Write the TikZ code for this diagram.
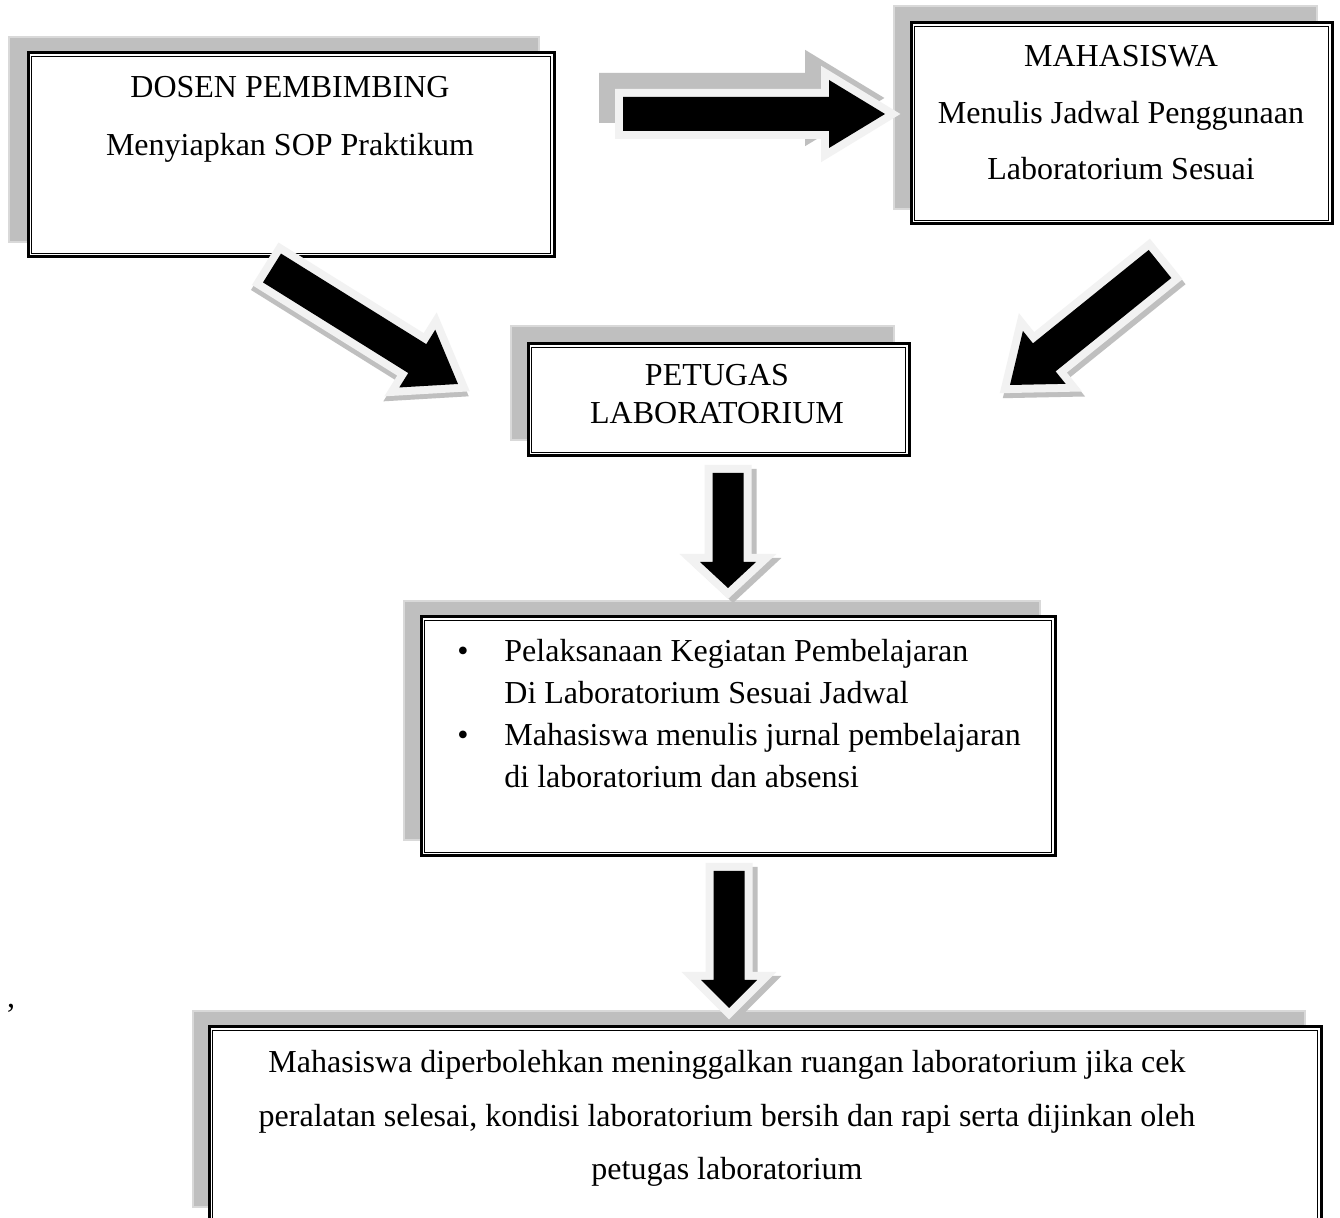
\documentclass[tikz,border=0pt]{standalone}
\usepackage{fontspec}
\setmainfont{Liberation Serif}
\usetikzlibrary{calc,fit}
\definecolor{shgray}{HTML}{BFBFBF}
\definecolor{shline}{HTML}{D9D9D9}
\definecolor{halo}{HTML}{F2F2F2}
\newcommand\flowbox[9]{%
  \draw[shadowbox] (#6,#7) rectangle (#8,#9);
  \coordinate (#1-a) at (#2,#3);
  \coordinate (#1-b) at (#4,#5);
  \node[mainbox, fit=(#1-a)(#1-b)] (#1) {};
  \draw[innerline] ([shift={(2.6pt,-2.6pt)}]#1.north west) rectangle ([shift={(-2.6pt,2.6pt)}]#1.south east);
}
\newcommand\arrowpath[4]{($(#1)!#3!90:(#2)$) -- ($(hb)!#3!90:(#2)$) -- ($(hb)!#4!90:(#2)$) -- (#2) -- ($(hb)!#4!-90:(#2)$) -- ($(hb)!#3!-90:(#2)$) -- ($(#1)!#3!-90:(#2)$) -- cycle}
\newcommand\blockarrow[6]{%
  \coordinate (hb) at ($(#2)!#5!(#1)$);
  \begin{scope}[transform canvas={shift={(#6)}}]
    \path[arrowshadow] \arrowpath{#1}{#2}{#3}{#4};
  \end{scope}
  \path[arrowhalo] \arrowpath{#1}{#2}{#3}{#4};
  \path[arrowbody] \arrowpath{#1}{#2}{#3}{#4};
}
\begin{document}
\begin{tikzpicture}[x=0.5pt,y=-0.5pt,
  shadowbox/.style={fill=shgray, draw=shline, line width=1.2pt},
  mainbox/.style={draw=black, fill=white, line width=1.5pt, inner sep=0pt},
  innerline/.style={draw=black, line width=0.7pt},
  txt/.style={font=\fontsize{16}{19}\selectfont, inner sep=0pt, anchor=base},
  arrowshadow/.style={fill=shgray, draw=shgray, line width=8pt, line join=miter},
  arrowhalo/.style={fill=halo, draw=halo, line width=8pt, line join=miter},
  arrowbody/.style={fill=black},
]
\useasboundingbox (0,0) rectangle (1340,1218);
\clip (0,0) rectangle (1340,1218);
\fill[white] (0,0) rectangle (1340,1218);

% boxes
\flowbox{dosen}{28}{53}{554}{257}{9}{37}{539}{242}
\flowbox{mhs}{911}{23}{1332}{224}{894}{6}{1317}{209}
\flowbox{petugas}{528}{344}{909}{456}{511}{326}{894}{440}
\flowbox{kegiatan}{421}{617}{1055}{856}{404}{601}{1040}{840}
\flowbox{izin}{209}{1027}{1321}{1260}{193}{1011}{1305}{1207}

% texts
\node[txt] (dosen-l1) at (290,98) {DOSEN PEMBIMBING};
\node[txt] (dosen-l2) at (290,156) {Menyiapkan SOP Praktikum};
\node[txt] (mhs-l1) at (1121,67) {MAHASISWA};
\node[txt] (mhs-l2) at (1121,124) {Menulis Jadwal Penggunaan};
\node[txt] (mhs-l3) at (1121,180) {Laboratorium Sesuai};
\node[txt] (pet-l1) at (717,386) {PETUGAS};
\node[txt] (pet-l2) at (717,424) {LABORATORIUM};
\node[txt] (keg-b1) at (463,662) {\textbullet};
\node[txt] (keg-b2) at (463,746) {\textbullet};
\node[txt, anchor=base west] (keg-l1) at (504,662) {Pelaksanaan Kegiatan Pembelajaran};
\node[txt, anchor=base west] (keg-l2) at (504,704) {Di Laboratorium Sesuai Jadwal};
\node[txt, anchor=base west] (keg-l3) at (504,746) {Mahasiswa menulis jurnal pembelajaran};
\node[txt, anchor=base west] (keg-l4) at (504,788) {di laboratorium dan absensi};
\node[txt] (izin-l1) at (727,1073) {Mahasiswa diperbolehkan meninggalkan ruangan laboratorium jika cek};
\node[txt] (izin-l2) at (727,1127) {peralatan selesai, kondisi laboratorium bersih dan rapi serta dijinkan oleh};
\node[txt] (izin-l3) at (727,1180) {petugas laboratorium};
\node[txt] (comma) at (11,1008) {,};

% block arrows
\coordinate (a1s) at (623,114); \coordinate (a1t) at (885,114);
\blockarrow{a1s}{a1t}{8.5pt}{17pt}{28pt}{-16,-16}
\coordinate (a2s) at (272,268); \coordinate (a2t) at (458,384);
\blockarrow{a2s}{a2t}{8.5pt}{17pt}{24pt}{-1,5}
\coordinate (a3s) at (1160,264); \coordinate (a3t) at (1010,385);
\blockarrow{a3s}{a3t}{9pt}{17pt}{22pt}{3,5}
\coordinate (a4s) at (728,473); \coordinate (a4t) at (728,588);
\blockarrow{a4s}{a4t}{7.75pt}{14pt}{13pt}{5,4}
\coordinate (a5s) at (729,871); \coordinate (a5t) at (729,1008);
\blockarrow{a5s}{a5t}{7.75pt}{14pt}{14pt}{5,4}
\end{tikzpicture}
\end{document}
